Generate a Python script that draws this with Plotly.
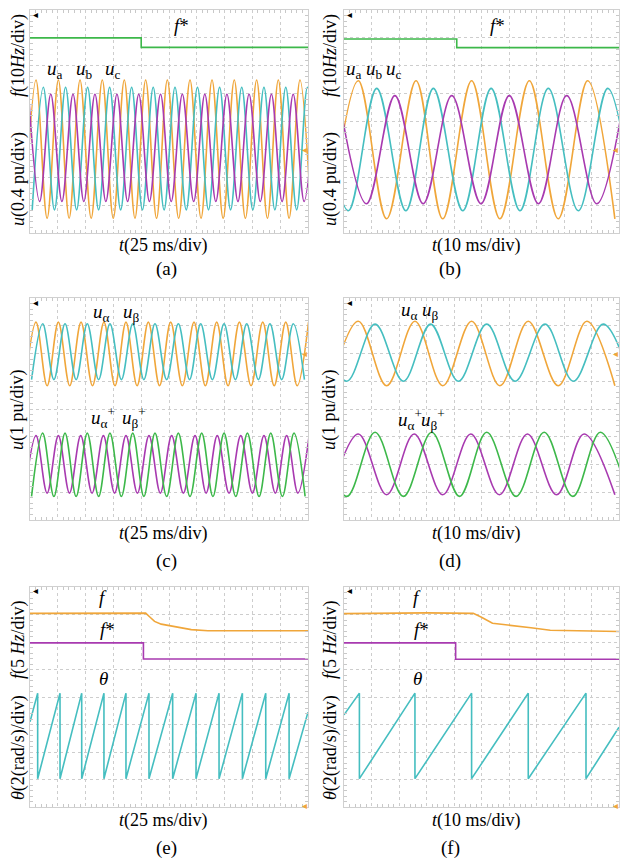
import plotly.graph_objects as go

W, H = 620, 860
ORANGE = '#F0A63A'
CYAN = '#45BEC0'
MAGENTA = '#A83AB0'
GREEN = '#3DB84A'
FONT = 'Liberation Serif'

# ---------------- data (t in ms, values in divisions, 0..8 from bottom) -------------
# panel (a): 25 ms/div
a_fref_t = [0, 100, 100, 250]
a_fref = [7.0, 7.0, 6.66, 6.66]
a_ua_peaks = [5.4, 25.5, 45.0, 65.0, 84.8, 104.0, 123.5, 143.9, 163.7, 183.7, 203.8, 223.3, 242.8]
a_ua_troughs = [-4.6, 15.4, 35.2, 55.0, 74.9, 94.4, 113.8, 133.7, 153.8, 173.7, 193.7, 213.5, 233.0, 252.8]
a_ua_lv = [5.49, 0.53]
a_ub_peaks = [12.0, 32.0, 51.8, 71.6, 91.4, 110.8, 130.4, 150.6, 170.5, 190.4, 210.4, 230.0, 249.5]
a_ub_troughs = [2.0, 22.0, 41.9, 61.7, 81.5, 101.1, 120.6, 140.5, 160.5, 180.4, 200.4, 220.2, 239.8, 259.5]
a_ub_lv = [5.23, 0.83]
a_uc_peaks = [-1.3, 18.7, 38.7, 58.4, 78.2, 97.8, 117.4, 137.0, 157.2, 177.1, 197.0, 217.1, 236.7, 256.5]
a_uc_troughs = [8.7, 28.7, 48.4, 68.2, 87.8, 107.4, 127.0, 147.2, 167.1, 187.0, 207.1, 226.7, 246.5]
a_uc_lv = [4.98, 1.13]

# panel (b): 10 ms/div
b_fref_t = [0, 41, 41, 100]
b_fref = [6.96, 6.96, 6.65, 6.65]
b_ua_peaks = [5.2, 26.2, 46.4, 67.4, 88.6]
b_ua_troughs = [-5.0, 15.5, 35.9, 56.7, 77.9, 98.5]
b_ua_lv = [5.46, 0.51]
b_ub_peaks = [-8.8, 11.9, 32.5, 53.5, 74.3, 95.9]
b_ub_troughs = [1.6, 22.5, 43.2, 64.0, 85.2, 105.5]
b_ub_lv = [5.19, 0.80]
b_uc_peaks = [-2.0, 18.5, 39.2, 60.1, 81.0, 102.0]
b_uc_troughs = [8.2, 28.8, 49.8, 70.7, 91.9]
b_uc_lv = [4.93, 1.05]

# panel (c): 25 ms/div, 1 pu/div
c_ual_peaks = [5.4, 25.5, 45.9, 66.5, 86.3, 106.4, 126.5, 147.5, 167.9, 188.3, 209.3, 230.0, 250.5]
c_ual_troughs = [-4.6, 15.4, 35.7, 56.2, 76.4, 96.3, 116.5, 137.0, 157.7, 178.1, 198.8, 219.6, 240.3]
c_ual_lv = [7.13, 4.84]
c_ube_peaks = [11.4, 31.5, 51.5, 71.9, 92.4, 112.4, 133.4, 153.5, 174.5, 194.9, 215.8, 236.8]
c_ube_troughs = [1.4, 21.5, 41.5, 61.7, 82.2, 102.4, 122.9, 143.5, 164.0, 184.7, 205.4, 226.3, 246.8]
c_ube_lv = [7.07, 5.06]
c_ualp_peaks = [5.4, 25.5, 45.6, 66.0, 86.3, 107.0, 127.4, 148.4, 168.4, 189.5, 210.4, 230.8, 251.0]
c_ualp_troughs = [-4.6, 15.4, 35.5, 55.8, 76.1, 96.6, 117.2, 137.9, 158.4, 179.0, 200.0, 220.6, 240.9]
c_ualp_lv = [3.04, 0.97]
c_ubep_peaks = [11.4, 31.5, 51.5, 71.9, 92.4, 112.4, 133.4, 154.4, 174.5, 195.5, 216.5, 237.4]
c_ubep_troughs = [1.4, 21.5, 41.5, 61.7, 82.2, 102.4, 122.9, 143.9, 164.5, 185.0, 206.0, 227.0, 247.4]
c_ubep_lv = [3.13, 0.85]

# panel (d): 10 ms/div, 1 pu/div
d_ual_peaks = [5.2, 25.8, 46.4, 67.0, 88.3]
d_ual_troughs = [-5.0, 15.5, 35.9, 56.7, 77.9, 98.5]
d_ual_lv = [7.16, 4.84]
d_ube_peaks = [-9.5, 11.3, 31.5, 51.9, 73.1, 94.3]
d_ube_troughs = [1.0, 21.6, 41.6, 62.2, 83.4, 104.5]
d_ube_lv = [7.06, 5.0]
d_ualp_peaks = [5.2, 25.5, 46.1, 66.7, 87.3]
d_ualp_troughs = [-5.0, 15.5, 35.9, 56.5, 77.3, 98.5]
d_ualp_lv = [3.1, 0.91]
d_ubep_peaks = [-9.5, 11.3, 31.9, 51.9, 72.8, 93.2]
d_ubep_troughs = [1.0, 21.6, 42.0, 62.6, 83.2, 103.5]
d_ubep_lv = [3.16, 0.85]

# panel (e): 25 ms/div
e_f_t = [0, 60, 104, 108, 112, 118, 130, 145, 160, 250]
e_f = [7.04, 7.06, 7.05, 6.9, 6.75, 6.65, 6.55, 6.45, 6.41, 6.41]
e_fref_t = [0, 102, 102, 250]
e_fref = [5.97, 5.97, 5.38, 5.38]
e_theta_reset = [6.9, 27.0, 46.5, 66.5, 86.3, 107.0, 128.3, 149.3, 170.0, 191.0, 212.0, 233.0]
e_theta_lv = [4.14, 1.03]
e_theta_ends = [3.1, 3.45]

# panel (f): 10 ms/div
f_f_t = [0, 30, 47, 50, 54, 60, 68, 75, 100]
f_f = [7.03, 7.06, 7.04, 6.9, 6.68, 6.62, 6.52, 6.43, 6.38]
f_fref_t = [0, 40.6, 40.6, 100]
f_fref = [5.97, 5.97, 5.37, 5.37]
f_theta_reset = [5.6, 25.8, 46.4, 67.0, 88.0]
f_theta_lv = [4.14, 1.03]
f_theta_ends = [3.35, 2.9]


def wave(peaks, troughs, lv):
    pts = sorted([(t, lv[0]) for t in peaks] + [(t, lv[1]) for t in troughs])
    return [p[0] for p in pts], [p[1] for p in pts]


def saw(resets, lv, ends, tmax):
    xs, ys = [0], [ends[0]]
    for t in resets:
        xs += [t, t]
        ys += [lv[0], lv[1]]
    xs.append(tmax)
    ys.append(ends[1])
    return xs, ys


fig = go.Figure()

def add(xs, ys, color, i, shape='linear', width=1.6):
    fig.add_trace(go.Scatter(x=xs, y=ys, mode='lines',
                             line=dict(color=color, width=width, shape=shape),
                             xaxis='x' + ('' if i == 1 else str(i)),
                             yaxis='y' + ('' if i == 1 else str(i)),
                             showlegend=False, hoverinfo='skip'))

# (a)
add(a_fref_t, a_fref, GREEN, 1)
add(*wave(a_ua_peaks, a_ua_troughs, a_ua_lv), ORANGE, 1, 'spline')
add(*wave(a_ub_peaks, a_ub_troughs, a_ub_lv), CYAN, 1, 'spline')
add(*wave(a_uc_peaks, a_uc_troughs, a_uc_lv), MAGENTA, 1, 'spline')
# (b)
add(b_fref_t, b_fref, GREEN, 2)
add(*wave(b_ua_peaks, b_ua_troughs, b_ua_lv), ORANGE, 2, 'spline')
add(*wave(b_ub_peaks, b_ub_troughs, b_ub_lv), CYAN, 2, 'spline')
add(*wave(b_uc_peaks, b_uc_troughs, b_uc_lv), MAGENTA, 2, 'spline')
# (c)
add(*wave(c_ual_peaks, c_ual_troughs, c_ual_lv), ORANGE, 3, 'spline')
add(*wave(c_ube_peaks, c_ube_troughs, c_ube_lv), CYAN, 3, 'spline')
add(*wave(c_ualp_peaks, c_ualp_troughs, c_ualp_lv), MAGENTA, 3, 'spline')
add(*wave(c_ubep_peaks, c_ubep_troughs, c_ubep_lv), GREEN, 3, 'spline')
# (d)
add(*wave(d_ual_peaks, d_ual_troughs, d_ual_lv), ORANGE, 4, 'spline')
add(*wave(d_ube_peaks, d_ube_troughs, d_ube_lv), CYAN, 4, 'spline')
add(*wave(d_ualp_peaks, d_ualp_troughs, d_ualp_lv), MAGENTA, 4, 'spline')
add(*wave(d_ubep_peaks, d_ubep_troughs, d_ubep_lv), GREEN, 4, 'spline')
# (e)
add(e_f_t, e_f, ORANGE, 5)
add(e_fref_t, e_fref, MAGENTA, 5)
add(*saw(e_theta_reset, e_theta_lv, e_theta_ends, 250), CYAN, 5)
# (f)
add(f_f_t, f_f, ORANGE, 6)
add(f_fref_t, f_fref, MAGENTA, 6)
add(*saw(f_theta_reset, f_theta_lv, f_theta_ends, 100), CYAN, 6)


def px(x):
    return x / W

def py(y):
    return 1 - y / H

cols = [(30, 308), (344, 619)]
rows = [(10, 233), (298, 520), (587, 807)]
layout = dict(width=W, height=H, margin=dict(l=0, r=0, t=0, b=0),
              paper_bgcolor='white', plot_bgcolor='white', showlegend=False,
              font=dict(family=FONT))

for r in range(3):
    for c in range(2):
        i = r * 2 + 1 + c
        tmax = 250 if c == 0 else 100
        dt = 25 if c == 0 else 10
        xk = 'xaxis' + ('' if i == 1 else str(i))
        yk = 'yaxis' + ('' if i == 1 else str(i))
        xa = 'x' + ('' if i == 1 else str(i))
        ya = 'y' + ('' if i == 1 else str(i))
        layout[xk] = dict(domain=[px(cols[c][0]), px(cols[c][1])], range=[0, tmax], dtick=dt,
                          tick0=0, anchor=ya, showgrid=True, gridcolor='#cdcdcd', griddash='dot',
                          gridwidth=1, zeroline=False, showticklabels=False, ticks='',
                          showline=True, linecolor='#d0d0d0', linewidth=1, mirror='allticks',
                          minor=dict(dtick=dt / 5, tick0=0, ticks='inside', ticklen=3, tickcolor='#c8c8c8'),
                          fixedrange=True)
        layout[yk] = dict(domain=[py(rows[r][1]), py(rows[r][0])], range=[0, 8], dtick=1,
                          tick0=0, anchor=xa, showgrid=True, gridcolor='#cdcdcd', griddash='dot',
                          gridwidth=1, zeroline=False, showticklabels=False, ticks='',
                          showline=True, linecolor='#d0d0d0', linewidth=1, mirror='allticks',
                          minor=dict(dtick=0.2, tick0=0, ticks='inside', ticklen=3, tickcolor='#c8c8c8'),
                          fixedrange=True)

ann = []

def text(x, y, s, size=18, angle=0, color='black', xanchor='center'):
    ann.append(dict(x=px(x), y=py(y), xref='paper', yref='paper', text=s, showarrow=False,
                    textangle=angle, xanchor=xanchor, yanchor='middle',
                    font=dict(family=FONT, size=size, color=color)))

# y-axis titles
for xo in (18, 330):
    text(xo, 56, '<i>f</i>(10<i>Hz</i>/div)', 18, -90)
    text(xo, 179, '<i>u</i>(0.4 pu/div)', 18, -90)
    text(xo, 410, '<i>u</i>(1 pu/div)', 18, -90)
    text(xo, 640, '<i>f</i>(5 <i>Hz</i>/div)', 18, -90)
    text(xo, 748, '<i>θ</i>(2(rad/s)/div)', 18, -90)

# x-axis titles and captions
for xc, s25 in ((163, '25'), (476, '10')):
    for y in (245, 533, 820):
        text(xc, y, '<i>t</i>(%s ms/div)' % s25, 18)
for xc, labs in ((166, ('(a)', '(c)', '(e)')), (450, ('(b)', '(d)', '(f)'))):
    for y, l in zip((269, 561, 848), labs):
        text(xc, y, l, 19)

# in-plot labels
text(55, 70, '<i>u</i><sub>a</sub>', 19)
text(84, 70, '<i>u</i><sub>b</sub>', 19)
text(113, 70, '<i>u</i><sub>c</sub>', 19)
text(182, 25, '<i>f</i>*', 19)
text(354, 70, '<i>u</i><sub>a</sub>', 19)
text(374, 70, '<i>u</i><sub>b</sub>', 19)
text(394, 70, '<i>u</i><sub>c</sub>', 19)
text(497, 25, '<i>f</i>*', 19)

text(101, 313, '<i>u</i><sub>α</sub>', 19)
text(131, 313, '<i>u</i><sub>β</sub>', 19)
text(103, 418, '<i>u</i><sub>α</sub><sup>+</sup>', 19)
text(134, 418, '<i>u</i><sub>β</sub><sup>+</sup>', 19)
text(409, 311, '<i>u</i><sub>α</sub>', 19)
text(430, 311, '<i>u</i><sub>β</sub>', 19)
text(410, 419, '<i>u</i><sub>α</sub><sup>+</sup>', 19)
text(433, 419, '<i>u</i><sub>β</sub><sup>+</sup>', 19)

for xo in (103, 417):
    text(xo, 597, '<i>f</i>', 19)
    text(xo + 4, 629, '<i>f</i>*', 19)
    text(xo, 678, '<i>θ</i>', 19)

# scope markers
for xl in (31, 345):
    for y in (14, 302, 590):
        text(xl, y, '◂', 10, 0, 'black', 'left')
for xr in (308, 619):
    for y in (150, 354, 805):
        text(xr + 1, y, '◂', 10, 0, ORANGE, 'right')

layout['annotations'] = ann
fig.update_layout(**layout)
fig.write_html('out.html', config={'displayModeBar': False},
               post_script="document.body.style.margin='0';document.body.style.padding='0';document.body.style.overflow='hidden';")
